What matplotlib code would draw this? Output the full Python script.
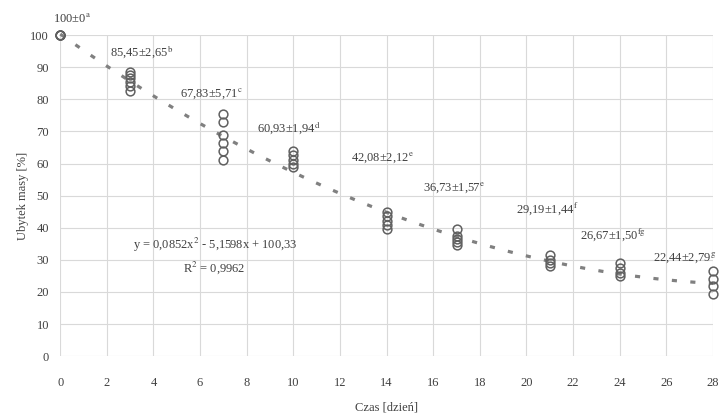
import numpy as np
import matplotlib
matplotlib.use("Agg")
import matplotlib.pyplot as plt

plt.rcParams['font.family'] = ['Liberation Serif', 'DejaVu Serif']
plt.rcParams['mathtext.fontset'] = 'stix'

# dni pomiaru i powtórzenia
days = [0, 3, 7, 10, 14, 17, 21, 24, 28]
replicates = [
    [100, 100, 100, 100],
    [82.5, 84, 85.5, 86.5, 87.5, 88.5],
    [75.5, 73, 69, 66.5, 64, 61],
    [64, 62.5, 61, 60, 59],
    [45, 43.5, 42, 41, 39.5],
    [39.5, 37.5, 36.5, 35.5, 34.5],
    [31.5, 30, 29, 28],
    [29, 27.5, 26, 25],
    [26.5, 24, 22, 19.5],
]
labels = ["100±0", "85,45±2,65", "67,83±5,71", "60,93±1,94", "42,08±2,12",
          "36,73±1,57", "29,19±1,44", "26,67±1,50", "22,44±2,79"]
letters = ["a", "b", "c", "d", "e", "e", "f", "fg", "g"]
label_x = [0.5, 3.5, 6.5, 9.8, 13.8, 16.9, 20.9, 23.7, 26.8]
label_y = [105.3, 94.7, 81.6, 71.0, 61.7, 52.5, 46.0, 37.7, 30.8]

# trend wielomianowy
coef = [0.0852, -5.1598, 100.33]

fig, ax = plt.subplots(figsize=(7.26, 4.18), dpi=100)
fig.subplots_adjust(left=0.083, right=0.982, top=0.916, bottom=0.148)

for d, vals in zip(days, replicates):
    ax.plot([d] * len(vals), vals, 'o', ms=6.3, mfc='none', mec='#606060',
            mew=1.1, zorder=3, clip_on=False)

xs = np.linspace(0, 28, 200)
ax.plot(xs, np.polyval(coef, xs), color='#808080', lw=2.3,
        linestyle=(0, (1.6, 4.2)), zorder=2, clip_on=False)

for t, l, x, y in zip(labels, letters, label_x, label_y):
    ax.text(x, y, t + r"$^{\mathrm{" + l + "}}$", ha='center', va='center',
            fontsize=9, color='#404040', clip_on=False)

ax.text(6.65, 34.6, r"y = 0,0852x$^{2}$ - 5,1598x + 100,33", ha='center',
        va='center', fontsize=9, color='#404040')
ax.text(6.6, 27.4, r"R$^{2}$ = 0,9962", ha='center', va='center',
        fontsize=9, color='#404040')

ax.set_xlim(0, 28)
ax.set_ylim(0, 100)
ax.set_xticks(range(0, 29, 2))
ax.set_yticks(range(0, 101, 10))
ax.grid(True, color='#d9d9d9', lw=0.8)
ax.set_axisbelow(True)
for s in ax.spines.values():
    s.set_visible(False)
ax.tick_params(axis='x', length=0, labelsize=9, colors='#404040', pad=15)
ax.tick_params(axis='y', length=0, labelsize=9, colors='#404040', pad=8)
ax.set_xlabel("Czas [dzień]", fontsize=9, color='#404040', labelpad=9)
ax.set_ylabel("Ubytek masy [%]", fontsize=9, color='#404040', labelpad=1)

fig.savefig("out.png", dpi=100)
